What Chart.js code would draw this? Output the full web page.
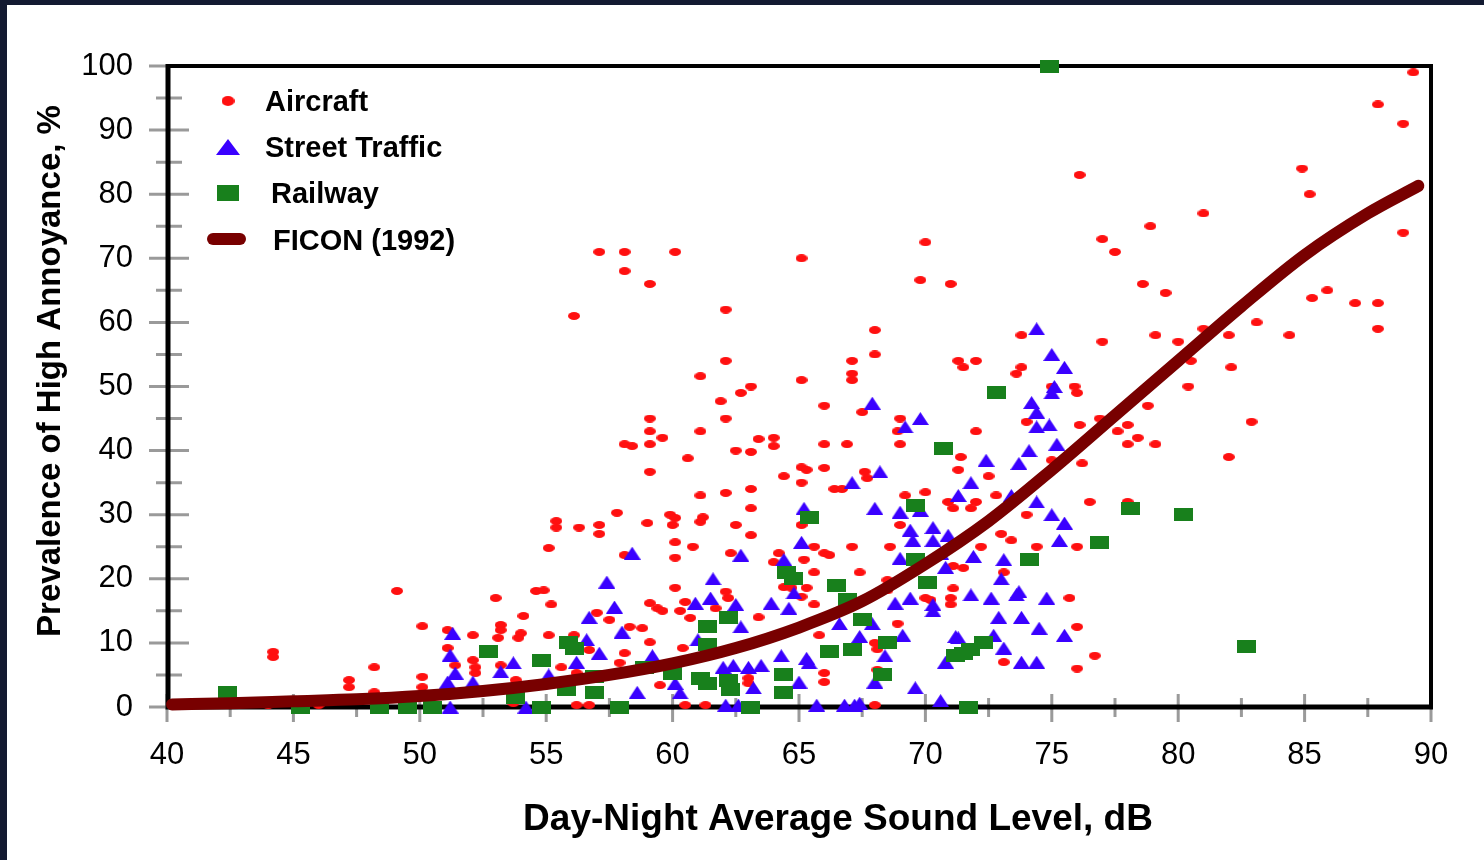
<!DOCTYPE html>
<html>
<head>
<meta charset="utf-8">
<title>Prevalence of High Annoyance</title>
<script src="https://cdn.jsdelivr.net/npm/chart.js@4.4.1/dist/chart.umd.min.js"></script>
<style>
    html, body { margin: 0; padding: 0; background: #fff; overflow: hidden; }
    canvas { display: block; }
</style>
</head>
<body>
<canvas id="annoyanceChart" width="1484" height="860"></canvas>
<script>
// data: [DNL dB, % highly annoyed]
const aircraft = [
    [44.2, 8.6], [44.2, 7.8], [44.0, 0.3], [46.0, 0.3], [47.2, 4.2], [47.2, 3.1], [48.2, 6.2], [48.2, 2.3],
    [49.1, 18.1], [50.1, 12.6], [50.1, 4.7], [50.1, 3.1], [51.1, 12], [51.1, 9.2], [51.4, 6.5], [52.1, 11.2],
    [52.1, 7.3], [52.2, 6.2], [52.2, 5.3], [53.0, 17], [53.2, 12.8], [53.2, 12], [53.1, 10.8], [53.2, 6.5],
    [53.8, 4.2], [53.7, 0.6], [54.1, 14.2], [54.0, 11.5], [53.9, 10.8], [54.6, 18.1],
    [57.1, 71], [58.1, 71], [60.1, 71], [58.1, 68], [59.1, 66], [56.1, 61], [62.1, 62], [62.1, 54],
    [61.1, 51.6], [62.7, 49], [63.1, 50], [61.9, 47.7], [59.1, 45], [59.1, 43], [59.1, 41], [59.6, 42],
    [58.1, 41], [58.4, 40.7], [61.1, 43], [62.1, 45], [63.4, 41.8], [62.5, 40], [63.1, 39.8], [60.6, 38.8],
    [59.1, 36.7], [61.1, 33], [62.1, 33.4], [63.1, 34], [63.1, 31], [57.8, 30.3], [55.4, 29], [55.4, 28],
    [56.3, 28], [57.1, 28.4], [57.1, 27], [59.0, 28.7], [59.9, 30], [60.1, 29.5], [60.0, 28.4], [61.2, 29.6],
    [61.1, 28.9], [62.5, 28.4], [63.1, 26.8], [55.1, 24.8], [60.1, 25.7], [60.8, 25], [60.1, 23.3], [62.3, 24],
    [58.1, 23.7], [54.9, 18.2], [60.1, 18.6], [62.1, 18], [62.2, 17], [55.2, 16], [59.1, 16.2], [59.4, 15.4],
    [59.6, 15], [60.3, 15], [60.5, 16.4], [60.7, 13.9], [57.0, 14.7], [57.5, 13.6], [61.7, 15.4], [63.4, 14],
    [55.1, 11.2], [58.3, 12.5], [58.8, 12.3], [56.1, 11.2], [59.1, 10.1], [56.7, 8.9], [58.1, 8.4], [55.6, 6.2],
    [56.2, 5.3], [57.9, 6.9], [59.5, 3.4], [60.4, 9.2], [63.0, 4.5], [56.2, 0.3], [56.7, 0.3], [60.5, 0.3],
    [61.3, 0.3],
    [70.0, 72.5], [65.1, 70], [69.8, 66.6], [71.0, 66], [68.0, 58.8], [67.1, 54], [68.0, 55], [67.1, 52],
    [67.1, 51], [65.1, 51], [71.3, 54], [66.0, 47], [67.5, 46], [69.0, 45], [68.9, 43], [69.0, 41],
    [64.0, 42], [64.0, 40.7], [66.0, 41], [66.9, 41], [65.1, 37.4], [65.3, 37], [66.0, 37.3], [64.4, 36],
    [65.1, 35], [67.6, 36.7], [67.7, 35.7], [66.4, 34], [66.7, 34], [69.2, 33], [70.0, 33.5], [65.1, 28.4],
    [64.2, 24], [64.0, 22.6], [65.6, 25], [66.0, 24], [66.2, 23.7], [67.1, 25], [68.6, 25], [69.0, 28.4],
    [65.2, 23], [65.6, 21], [67.4, 21], [71.1, 22], [64.4, 18.7], [64.7, 18.6], [65.3, 18.6], [68.5, 19.8],
    [68.5, 18.2], [65.1, 17.2], [65.6, 16], [70.0, 17], [70.2, 16.7], [71.0, 17], [71.0, 16], [65.8, 11.2],
    [68.9, 13], [68.0, 10], [68.1, 9], [66.0, 5.3], [66.0, 3.9], [68.1, 5.8], [63.0, 3.7], [68.0, 0.3],
    [76.1, 83], [77.0, 73], [77.5, 71], [78.6, 66], [73.8, 58], [77.0, 57], [79.1, 58], [71.5, 53],
    [72.0, 54], [73.8, 53], [73.6, 52], [75.0, 50], [75.9, 50], [76.0, 49], [74.0, 44.5], [76.1, 44],
    [76.9, 45], [77.6, 43], [78.0, 44], [78.4, 42], [78.0, 41], [79.1, 41], [78.8, 47], [72.0, 43],
    [71.4, 39], [71.3, 37], [72.5, 36], [75.0, 38.5], [76.2, 38], [72.8, 33], [70.9, 32], [71.1, 31],
    [71.8, 31], [72.0, 32], [74.0, 30], [76.5, 32], [78.0, 32], [73.0, 27], [73.4, 26], [74.4, 25],
    [76.0, 25], [72.2, 25], [71.5, 21.7], [71.1, 18.5], [73.1, 21], [75.7, 17], [76.0, 12.5], [76.7, 8],
    [73.1, 7], [76.0, 6],
    [89.3, 99], [87.9, 94], [88.9, 91], [84.9, 84], [85.2, 80], [81.0, 77], [78.9, 75], [88.9, 74],
    [79.5, 64.6], [85.3, 63.8], [85.9, 65], [87.0, 63], [87.9, 63], [87.9, 59], [80.0, 57], [81.0, 59],
    [82.0, 58], [83.1, 60], [84.4, 58], [82.1, 53], [80.5, 54], [80.4, 50], [82.9, 44.5], [82.0, 39]
];

const streetTraffic = [
    [51.3, 11.5], [51.2, 8.1], [51.4, 5.3], [51.1, 3.9], [52.1, 3.9], [53.2, 5.5], [53.7, 6.9], [55.1, 5],
    [51.2, 0], [54.2, 0],
    [58.4, 24], [62.7, 23.7], [57.4, 19.5], [61.6, 20], [60.9, 16.2], [61.5, 17], [62.5, 16], [56.7, 14],
    [57.7, 15.6], [58.0, 11.7], [62.7, 12.5], [56.6, 10.5], [57.1, 8.4], [56.2, 7], [59.2, 8], [61.0, 10.5],
    [62.0, 6.2], [62.4, 6.5], [63.0, 6.2], [58.6, 2.3], [60.1, 3.7], [60.3, 2.2], [62.1, 0.3], [62.6, 0.3],
    [67.9, 47.4], [69.8, 45], [69.2, 43.7], [68.2, 36.7], [67.1, 35], [71.3, 33], [65.2, 31], [68.0, 31],
    [69.0, 30.4], [69.8, 30.7], [69.4, 27.6], [69.5, 26], [70.3, 28], [70.3, 26], [70.9, 26.8], [65.1, 25.7],
    [64.4, 23], [69.0, 23.2], [70.8, 21.8], [64.8, 17.8], [63.9, 16.2], [64.6, 15.4], [68.8, 16.2], [69.4, 17],
    [70.3, 16], [70.3, 15], [66.6, 13], [67.4, 11], [67.9, 13], [69.1, 11.2], [71.2, 11], [64.3, 8],
    [65.3, 7.6], [65.4, 6.9], [68.4, 8], [70.8, 7], [63.5, 6.5], [65.0, 3.9], [68.0, 3.9], [63.2, 3],
    [69.6, 3], [65.7, 0.3], [66.8, 0.3], [67.2, 0.3], [67.4, 0.6], [70.6, 1],
    [74.4, 59], [75.0, 55], [75.5, 53], [75.1, 50], [75.0, 49], [74.2, 47.5], [74.4, 46], [74.4, 43.7],
    [74.9, 44], [75.2, 41], [74.1, 40], [73.7, 38], [72.4, 38.5], [71.8, 35], [73.4, 33], [74.4, 32],
    [75.0, 30], [75.5, 28.7], [75.3, 26], [70.6, 24], [71.9, 23.5], [73.1, 23], [73.0, 20], [73.7, 18],
    [73.6, 17.5], [71.8, 17.5], [72.6, 17], [74.8, 17], [72.9, 14], [73.8, 14], [74.5, 12.3], [75.5, 11.2],
    [71.3, 10.8], [72.7, 11.2], [73.1, 9.2], [73.8, 7], [74.4, 7]
];

const railway = [
    [42.4, 2.2], [45.3, 0], [48.4, 0], [49.5, 0], [50.5, 0], [52.7, 8.6], [54.8, 7.3], [53.8, 1.5],
    [54.8, 0], [62.2, 14], [61.4, 12.5], [55.9, 10], [56.1, 9.2], [61.4, 9.7], [58.9, 6.2], [60.0, 5.3],
    [61.1, 4.5], [61.4, 3.7], [62.2, 4.2], [62.3, 2.7], [56.9, 4.7], [56.9, 2.2], [55.8, 2.7], [57.9, 0],
    [63.1, 0], [70.7, 40.4], [65.4, 29.6], [69.6, 31.5], [64.5, 21], [64.8, 20], [66.5, 19], [66.9, 16.7],
    [69.6, 23], [70.1, 19.5], [67.5, 13.6], [68.5, 10], [66.2, 8.6], [67.1, 8.9], [71.2, 8], [64.4, 5],
    [68.3, 5], [64.4, 2.2], [72.8, 49], [74.1, 23], [76.9, 25.7], [78.1, 31], [71.5, 8.4], [71.8, 8.9],
    [72.3, 10], [71.7, 0], [80.2, 30], [82.7, 9.4], [74.9, 100]
];

// FICON (1992) curve, values read at the plotted levels
const ficonDb  = [40.2, 42.5, 45, 47.5, 50, 52.5, 55, 57.5, 60, 62.5, 65, 67.5, 70, 72.5, 75, 77.5, 80, 82.5, 85, 87.5, 89.5];
const ficonPct = [0.4, 0.6, 0.9, 1.2, 1.7, 2.5, 3.6, 5, 6.8, 9.2, 12.4, 16.5, 22.3, 29, 37, 45.5, 54, 62.5, 70.5, 77, 81.3];

const xTicks = [40, 45, 50, 55, 60, 65, 70, 75, 80, 85, 90];
const yTicks = [0, 10, 20, 30, 40, 50, 60, 70, 80, 90, 100];

const FONT = '"Liberation Sans", Arial, Helvetica, sans-serif';
const RED = '#ff1010';
const BLUE = '#3a00ff';
const GREEN = '#18801c';
const MAROON = '#780000';

// little canvases used as point styles
function marker(shape, w, h, color) {
    const c = document.createElement('canvas');
    c.width = w;
    c.height = h;
    const g = c.getContext('2d');
    g.fillStyle = color;
    g.beginPath();
    if (shape === 'ellipse') {
        g.ellipse(w / 2, h / 2, w / 2, h / 2, 0, 0, Math.PI * 2);
    } else if (shape === 'triangle') {
        g.moveTo(w / 2, 0);
        g.lineTo(w, h);
        g.lineTo(0, h);
        g.closePath();
    } else {
        g.rect(0, 0, w, h);
    }
    g.fill();
    return c;
}

const toXY = (pairs) => pairs.map(p => ({ x: p[0], y: p[1] }));

// background, dark frame, axis ticks and borders
const framePlugin = {
    id: 'frame',
    beforeDraw(chart) {
        const ctx = chart.ctx;
        ctx.save();
        ctx.fillStyle = '#ffffff';
        ctx.fillRect(0, 0, chart.width, chart.height);
        ctx.fillStyle = '#131a31';
        ctx.fillRect(0, 0, chart.width, 5);
        ctx.fillRect(0, 0, 7, chart.height);
        ctx.restore();
    },
    beforeDatasetsDraw(chart) {
        const { ctx, chartArea: a, scales: { x, y } } = chart;
        ctx.save();
        ctx.strokeStyle = '#9a9a9a';
        ctx.lineWidth = 3;
        ctx.beginPath();
        for (let v = 0; v <= 100; v += 5) {
            const py = y.getPixelForValue(v);
            const major = v % 10 === 0;
            ctx.moveTo(a.left - (major ? 18 : 11), py);
            ctx.lineTo(a.left + (major ? 22 : 15), py);
        }
        for (let v = 40; v <= 90; v += 2.5) {
            const px = x.getPixelForValue(v);
            const major = v % 5 === 0;
            ctx.moveTo(px, a.bottom - (major ? 13 : 9));
            ctx.lineTo(px, a.bottom + (major ? 15 : 10));
        }
        ctx.stroke();

        ctx.strokeStyle = '#000';
        ctx.lineWidth = 4;
        ctx.beginPath();
        ctx.moveTo(a.left, a.top);
        ctx.lineTo(a.right, a.top);
        ctx.lineTo(a.right, a.bottom);
        ctx.stroke();
        ctx.lineWidth = 5;
        ctx.beginPath();
        ctx.moveTo(a.left + 1, a.top - 2);
        ctx.lineTo(a.left + 1, a.bottom);
        ctx.lineTo(a.right + 2, a.bottom);
        ctx.stroke();
        ctx.restore();
    },
    afterDraw(chart) {
        const ctx = chart.ctx;
        ctx.save();
        ctx.fillStyle = '#000';
        ctx.textAlign = 'center';
        ctx.textBaseline = 'middle';
        ctx.font = 'bold 37px ' + FONT;
        ctx.fillText('Day-Night Average Sound Level, dB', 838, 820);
        ctx.translate(51, 371);
        ctx.rotate(-Math.PI / 2);
        ctx.font = 'bold 33px ' + FONT;
        ctx.fillText('Prevalence of High Annoyance, %', 0, 0);
        ctx.restore();
    }
};

// legend in the upper left of the plot
const legendPlugin = {
    id: 'insideLegend',
    afterDraw(chart) {
        const ctx = chart.ctx;
        const rows = [
            { ds: 0, y: 103, tx: 265, icon: marker('ellipse', 13, 10, RED) },
            { ds: 1, y: 149, tx: 265, icon: marker('triangle', 24, 16, BLUE) },
            { ds: 2, y: 195, tx: 271, icon: marker('rect', 22, 16, GREEN) },
            { ds: 3, y: 242, tx: 273, icon: null }
        ];
        ctx.save();
        ctx.font = 'bold 29px ' + FONT;
        ctx.fillStyle = '#000';
        ctx.textBaseline = 'middle';
        rows.forEach(r => {
            const ds = chart.data.datasets[r.ds];
            if (r.icon) {
                ctx.drawImage(r.icon, 228 - r.icon.width / 2, r.y - 2 - r.icon.height / 2);
            } else {
                ctx.strokeStyle = ds.borderColor;
                ctx.lineWidth = 12;
                ctx.lineCap = 'round';
                ctx.beginPath();
                ctx.moveTo(213, r.y - 3);
                ctx.lineTo(240, r.y - 3);
                ctx.stroke();
            }
            ctx.fillText(ds.label, r.tx, r.y);
        });
        ctx.restore();
    }
};

const ctx = document.getElementById('annoyanceChart').getContext('2d');

new Chart(ctx, {
    type: 'scatter',
    data: {
        datasets: [
            {
                label: 'Aircraft',
                data: toXY(aircraft),
                pointStyle: marker('ellipse', 12, 8, RED),
                backgroundColor: RED,
                clip: false,
                order: 3
            },
            {
                label: 'Street Traffic',
                data: toXY(streetTraffic),
                pointStyle: marker('triangle', 17, 13, BLUE),
                backgroundColor: BLUE,
                clip: false,
                order: 2
            },
            {
                label: 'Railway',
                data: toXY(railway),
                pointStyle: marker('rect', 19, 13, GREEN),
                backgroundColor: GREEN,
                clip: false,
                order: 1
            },
            {
                label: 'FICON (1992)',
                data: ficonDb.map((d, i) => ({ x: d, y: ficonPct[i] })),
                showLine: true,
                borderColor: MAROON,
                borderWidth: 12,
                borderCapStyle: 'round',
                borderJoinStyle: 'round',
                cubicInterpolationMode: 'monotone',
                pointRadius: 0,
                clip: false,
                order: 0
            }
        ]
    },
    options: {
        responsive: false,
        animation: false,
        devicePixelRatio: 1,
        layout: { padding: { left: 0, right: 53, top: 66, bottom: 0 } },
        plugins: {
            legend: { display: false },
            tooltip: { enabled: false }
        },
        scales: {
            x: {
                type: 'linear',
                min: 40,
                max: 90,
                afterBuildTicks: (s) => { s.ticks = xTicks.map(v => ({ value: v })); },
                grid: { display: false, drawTicks: false },
                border: { display: false },
                ticks: { padding: 30, color: '#000', font: { family: FONT, size: 31 } },
                afterFit: (s) => { s.height = 153; }
            },
            y: {
                min: 0,
                max: 100,
                afterBuildTicks: (s) => { s.ticks = yTicks.map(v => ({ value: v })); },
                grid: { display: false, drawTicks: false },
                border: { display: false },
                ticks: { padding: 34, color: '#000', font: { family: FONT, size: 31 } },
                afterFit: (s) => { s.width = 167; }
            }
        }
    },
    plugins: [framePlugin, legendPlugin]
});
</script>
</body>
</html>
